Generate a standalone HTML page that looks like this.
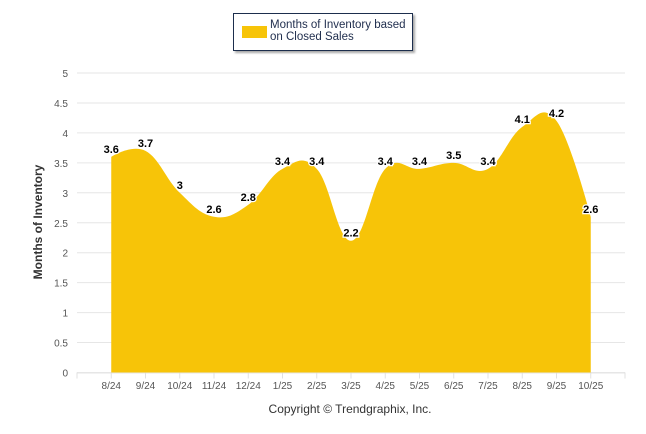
<!DOCTYPE html>
<html><head><meta charset="utf-8"><style>
body{margin:0;background:#fff;font-family:"Liberation Sans",Arial,sans-serif}
svg{display:block}
</style></head><body>
<svg width="646" height="434" viewBox="0 0 646 434">
<defs><filter id="sh"><feDropShadow dx="2" dy="2" stdDeviation="1" flood-color="#000" flood-opacity="0.35"/></filter></defs>
<g id="grid"></g>
<g id="ylabels"></g>
<path id="area" fill="#f7c408"/>
<g id="xaxis"></g>
<g id="dlabels"></g>
<text x="42" y="222" transform="rotate(-90 42 222)" text-anchor="middle" font-size="12" font-weight="bold" fill="#333">Months of Inventory</text>
<g>
<rect x="233.5" y="13.5" width="179" height="37" fill="#fff" stroke="#1f2d4d" stroke-width="1" filter="url(#sh)"/>
<rect x="242" y="26" width="25" height="12" fill="#f7c408"/>
<text x="270" y="28" font-size="11.5" fill="#1f2d4d"><tspan x="270" dy="0">Months of Inventory based</tspan><tspan x="270" dy="12">on Closed Sales</tspan></text>
</g>
<text x="350" y="413" text-anchor="middle" font-size="12" fill="#333">Copyright © Trendgraphix, Inc.</text>
</svg>
<script>
const categories=["8/24","9/24","10/24","11/24","12/24","1/25","2/25","3/25","4/25","5/25","6/25","7/25","8/25","9/25","10/25"];
const values=[3.6,3.7,3,2.6,2.8,3.4,3.4,2.2,3.4,3.4,3.5,3.4,4.1,4.2,2.6];
const yTicks=[0,0.5,1,1.5,2,2.5,3,3.5,4,4.5,5];
const NS="http://www.w3.org/2000/svg";
const L=77,R=625,Y0=372.5,Y5=73;
const band=(R-L)/(categories.length+1);
const xs=i=>L+band*(i+1);
const ys=v=>Y0-(Y0-Y5)*v/5;
function mk(tag,attrs,parent){const e=document.createElementNS(NS,tag);for(const k in attrs)e.setAttribute(k,attrs[k]);parent.appendChild(e);return e;}
const grid=document.getElementById('grid'),yl=document.getElementById('ylabels');
yTicks.forEach(t=>{
 const ln=mk('line',{x1:L,x2:R,y1:ys(t),y2:ys(t),stroke:'#e6e6e6','stroke-width':1},grid);
 
 
 const tx=mk('text',{x:68,y:ys(t)+4,'text-anchor':'end','font-size':10,fill:'#555'},yl);
 tx.textContent=String(t);
 
 
});
const pts=values.map((v,i)=>[xs(i),ys(v)]);
let d=`M${pts[0][0]},${Y0} L${pts[0][0]},${pts[0][1]}`;
const sm=1.5;
function ctrl(i){
 const p=pts[i],a=pts[i-1],b=pts[i+1];
 if(!a||!b)return [p,p];
 const lx=(sm*p[0]+a[0])/(sm+1),rx=(sm*p[0]+b[0])/(sm+1);
 let ly=(sm*p[1]+a[1])/(sm+1),ry=(sm*p[1]+b[1])/(sm+1);
 const c=(ry-ly)*(rx-p[0])/(rx-lx)+p[1]-ry;
 ly+=c;ry+=c;
 return [[lx,ly],[rx,ry]];
}
const cs=pts.map((_,i)=>ctrl(i));
for(let i=1;i<pts.length;i++){const c1=cs[i-1][1],c2=cs[i][0];d+=` C${c1[0]},${c1[1]} ${c2[0]},${c2[1]} ${pts[i][0]},${pts[i][1]}`;}
d+=` L${pts[pts.length-1][0]},${Y0} Z`;
document.getElementById('area').setAttribute('d',d);
const xa=document.getElementById('xaxis');
mk('line',{x1:L,x2:R,y1:Y0+0.5,y2:Y0+0.5,stroke:'#e6e6e6'},xa);
for(let i=0;i<=categories.length+1;i++){
 const tk=mk('line',{x1:L+band*i,x2:L+band*i,y1:Y0,y2:Y0+6,stroke:'#e0e0e0'},xa);
 
 
}
const dl=document.getElementById('dlabels');
categories.forEach((c,i)=>{
 const t=mk('text',{x:xs(i),y:389,'text-anchor':'middle','font-size':10,fill:'#555'},xa);
 t.textContent=c;
 
 
 const v=mk('text',{x:xs(i),y:ys(values[i])-4,'text-anchor':'middle','font-size':11,'font-weight':'bold',fill:'#000',stroke:'#fff','stroke-width':2.5,'paint-order':'stroke'},dl);
 v.textContent=String(values[i]);
 
 
});
</script>
</body></html>
